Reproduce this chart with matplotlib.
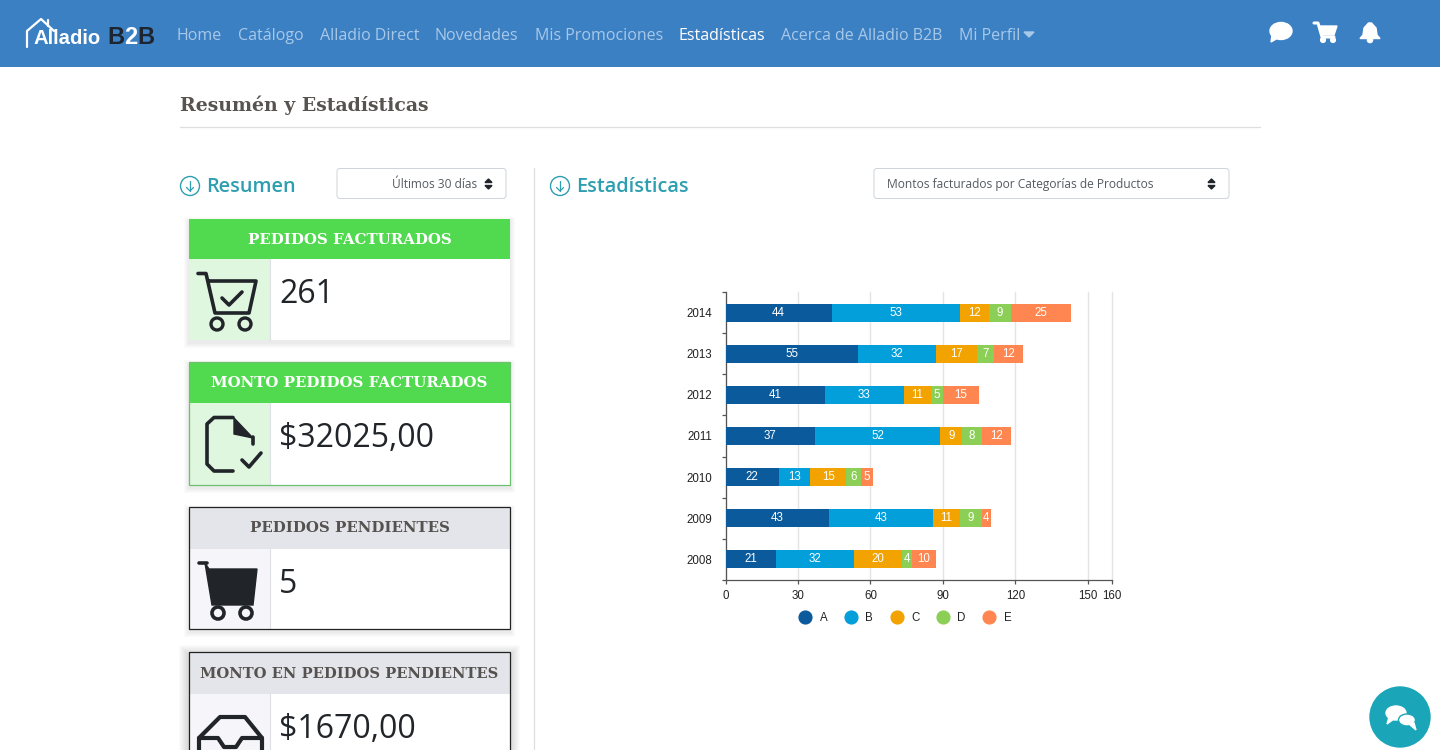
import matplotlib
matplotlib.use("Agg")
import matplotlib.pyplot as plt
from matplotlib.lines import Line2D
from matplotlib.patches import Circle, Ellipse, FancyBboxPatch, Polygon, Rectangle

W, H = 1440, 750

YEARS = ["2008", "2009", "2010", "2011", "2012", "2013", "2014"]
SERIES = ["A", "B", "C", "D", "E"]
A = [21, 43, 22, 37, 41, 55, 44]
B = [32, 43, 13, 52, 33, 32, 53]
C = [20, 11, 15, 9, 11, 17, 12]
D = [4, 9, 6, 8, 5, 7, 9]
E = [10, 4, 5, 12, 15, 12, 25]
XTICKS = [0, 30, 60, 90, 120, 150, 160]
COLORS = ["#0b5a9c", "#039fdb", "#f2a300", "#8ccf56", "#ff8650"]

NAV_ITEMS = ["Home", "Catálogo", "Alladio Direct", "Novedades", "Mis Promociones",
             "Estadísticas", "Acerca de Alladio B2B", "Mi Perfil"]
NAV_X = [177, 238, 320, 435, 535, 679, 781, 959]

SANS = "Open Sans"
SLAB = "DejaVu Serif"
DARK = "#212529"
TEAL = "#2e9fb0"
CHART_FONT = 8.3

fig = plt.figure(figsize=(W / 100, H / 100), dpi=100, facecolor="white")

# the page around the chart, in pixels
page = fig.add_axes([0, 0, 1, 1])
page.set_xlim(0, W)
page.set_ylim(H, 0)
page.axis("off")


def rect(x0, y0, x1, y1, color, z=1, **kw):
    page.add_patch(Rectangle((x0, y0), x1 - x0, y1 - y0, facecolor=color, zorder=z, **kw))


def line(xs, ys, color=DARK, lw=3.0, z=5):
    page.plot(xs, ys, color=color, lw=lw, zorder=z, solid_capstyle="round", solid_joinstyle="round")


def text(x, y, s, size, color=DARK, family=SANS, ha="left", weight="normal", z=6):
    page.text(x, y, s, fontsize=size, color=color, family=family, ha=ha, va="center",
              weight=weight, zorder=z)


def shadow(x0, y0, x1, y1, spread, alpha):
    for i in range(spread, 0, -1):
        rect(x0 - i, y0 - i + 3, x1 + i, y1 + i + 3, "black", z=1, alpha=alpha, linewidth=0)


def card(y0, y1, head_end, title, value, head, head_text, cell, border, title_size):
    rect(189, y0, 510, y1, "white", z=2, linewidth=0)
    rect(189, y0, 510, head_end, head, z=3, linewidth=0)
    rect(189, head_end, 270, y1, cell, z=3, linewidth=0)
    page.plot([270, 270], [head_end, y1], color="#dfe0e5", lw=0.8, zorder=4)
    if border:
        page.add_patch(Rectangle((189, y0), 321, y1 - y0, fill=False, edgecolor=border, lw=0.9, zorder=5))
    text(349.5, (y0 + head_end) / 2 + 0.5, title, title_size, head_text, SLAB, "center", "bold")
    text(279, head_end + 35.5, value, 23, DARK)


def select_box(x0, x1, label, tx, ha, size):
    page.add_patch(FancyBboxPatch((x0, 168.5), x1 - x0, 30, boxstyle="round,pad=0,rounding_size=3",
                                  facecolor="white", edgecolor="#ced4da", lw=0.7, zorder=3))
    text(tx, 184.5, label, size, "#555b61", ha=ha)
    ax_ = x1 - 17.5
    page.add_patch(Polygon([(ax_ - 3.5, 182.5), (ax_ + 3.5, 182.5), (ax_, 179)], color=DARK, zorder=5))
    page.add_patch(Polygon([(ax_ - 3.5, 185.5), (ax_ + 3.5, 185.5), (ax_, 189)], color=DARK, zorder=5))


def section_icon(x):
    page.add_patch(Ellipse((x, 186), 19, 19, fill=False, edgecolor=TEAL, lw=1.0, zorder=5))
    line([x, x], [181, 191], TEAL, 0.9)
    line([x - 3.5, x, x + 3.5], [187.5, 191, 187.5], TEAL, 0.9)


# navbar
rect(0, 0, W, 67, "#3c80c4", linewidth=0)
for label, x in zip(NAV_ITEMS, NAV_X):
    text(x, 36, label, 11.5, "white" if label == "Estadísticas" else "#a8c8e8")
page.add_patch(Polygon([(1024, 32), (1034, 32), (1029, 37)], color="#a8c8e8", zorder=5))

# logo
line([27, 27, 41, 54], [47, 31, 19, 31], "white", 1.6)
line([48, 48], [26, 20], "white", 1.6)
text(33, 38, "Alladio", 14.6, "white", "Liberation Sans", weight="bold")
text(107, 37, "B", 17, "#1d2530", "Liberation Sans", weight="bold")
text(124, 37, "2", 17, "white", "Liberation Sans", weight="bold", z=7)
text(137, 37, "B", 17, "#1d2530", "Liberation Sans", weight="bold")

# navbar icons
page.add_patch(Ellipse((1281, 31), 22, 17, color="white", zorder=5))
page.add_patch(Polygon([(1272, 35), (1278, 38), (1271, 42)], color="white", zorder=5))
line([1314, 1318, 1322, 1334], [23, 23, 37, 37], "white", 2.2)
page.add_patch(Polygon([(1319, 26), (1337, 26), (1334, 35), (1322, 35)], color="white", zorder=5))
page.add_patch(Circle((1323, 40), 2.4, color="white", zorder=5))
page.add_patch(Circle((1333, 40), 2.4, color="white", zorder=5))
page.add_patch(Polygon([(1364, 28), (1368.5, 23), (1371.5, 23), (1376, 28), (1377, 35), (1380, 38.5),
                        (1360, 38.5), (1363, 35)], color="white", zorder=5))
page.add_patch(Circle((1370, 40), 2.6, color="white", zorder=4))

# headings
text(180, 105, "Resumén y Estadísticas", 13.6, "#57534f", SLAB, weight="bold")
page.plot([180, 1260], [127, 127], color="#dedede", lw=0.9, zorder=2)
page.plot([534, 534], [168, H], color="#dedede", lw=0.9, zorder=2)
section_icon(190)
section_icon(560)
text(206, 187.5, "Resumen", 14.3, TEAL, weight="semibold")
text(576, 187.5, "Estadísticas", 14.3, TEAL, weight="semibold")
select_box(337, 506, "Últimos 30 días", 477, "right", 8.6)
select_box(874, 1229, "Montos facturados por Categorías de Productos", 887, "left", 8.65)

# cards
shadow(189, 219, 510, 340, 5, 0.014)
shadow(189, 362, 510, 485, 5, 0.014)
shadow(189, 507, 510, 629, 5, 0.014)
shadow(189, 652, 510, 760, 10, 0.016)
card(219, 340, 259, "PEDIDOS FACTURADOS", "261", "#51d94f", "white", "#dff6df", None, 10.8)
card(362, 485, 403, "MONTO PEDIDOS FACTURADOS", "$32025,00", "#51d94f", "white", "#dff6df", "#6cc070", 10.8)
card(507, 629, 549, "PEDIDOS PENDIENTES", "5", "#e4e5ea", "#55524f", "#f6f6fa", "#222222", 10.8)
card(652, 760, 694, "MONTO EN PEDIDOS PENDIENTES", "$1670,00", "#e4e5ea", "#55524f", "#f6f6fa", "#222222", 10.6)

# card icons
line([198, 206, 215, 249, 256, 209], [273.5, 273.5, 313, 313, 281, 281], DARK, 2.6)
line([222, 229, 242], [298, 305, 292], DARK, 2.6)
for cx in (217, 245):
    page.add_patch(Circle((cx, 324), 6, facecolor="#dff6df", edgecolor=DARK, lw=2.4, zorder=6))

line([253, 253], [437, 444], DARK, 2.6)
line([233, 214, 207, 207, 214, 233], [417.5, 417.5, 424, 464, 471, 471], DARK, 2.6)
page.add_patch(Polygon([(234, 418), (234, 434), (253, 438)], color=DARK, zorder=6))
line([242, 249, 261], [460, 467, 453], DARK, 2.6)

line([199, 207], [563, 563], DARK, 2.6)
page.add_patch(Polygon([(205, 563), (209, 569), (257, 569), (253, 605), (212, 605)], color=DARK, zorder=6))
for cx in (218, 246):
    page.add_patch(Circle((cx, 613), 6, facecolor="#f6f6fa", edgecolor=DARK, lw=2.6, zorder=7))

line([199, 199, 220, 245, 262, 262], [760, 738, 717, 717, 738, 760], DARK, 3)
line([199, 218, 224, 236, 242, 262], [738, 738, 747, 747, 738, 738], DARK, 3)

# floating chat button
page.add_patch(Circle((1400, 717), 30, color="#1ba5b8", zorder=8))
page.add_patch(Ellipse((1396, 713), 20, 14, color="white", zorder=9))
page.add_patch(Polygon([(1389, 717), (1394, 719), (1387, 724)], color="white", zorder=9))
page.add_patch(Ellipse((1407, 720), 17, 12, color="white", ec="#1ba5b8", lw=1, zorder=10))
page.add_patch(Polygon([(1409, 724), (1414, 723), (1416, 730)], color="white", zorder=10))

# chart
ax = fig.add_axes([725.5 / W, 1 - 579.7 / H, (1112 - 725.5) / W, (579.7 - 292.3) / H])
ax.patch.set_alpha(0)
left = [0] * len(YEARS)
for name, vals, color in zip(SERIES, [A, B, C, D, E], COLORS):
    bars = ax.barh(YEARS, vals, left=left, height=0.44, color=color, zorder=3)
    ax.bar_label(bars, label_type="center", color="white", fontsize=CHART_FONT, family="Liberation Sans")
    left = [l + v for l, v in zip(left, vals)]

ax.set_xlim(0, 160)
ax.set_ylim(-0.5, 6.5)
ax.set_xticks(XTICKS)
ax.set_yticks(range(len(YEARS)), YEARS)
ax.set_yticks([i - 0.5 for i in range(len(YEARS) + 1)], minor=True)
ax.tick_params(axis="y", which="major", length=0, pad=9.5, labelsize=CHART_FONT, labelcolor="#222222")
ax.tick_params(axis="y", which="minor", length=3, width=0.9, color="#555555")
ax.tick_params(axis="x", length=3.2, width=0.9, color="#555555", pad=4.5, labelsize=CHART_FONT, labelcolor="#222222")
for label in ax.get_xticklabels() + ax.get_yticklabels():
    label.set_family("Liberation Sans")
ax.grid(axis="x", color="#e4e4e4", lw=1.0, zorder=0, clip_on=False)
ax.set_axisbelow(True)
for side in ("top", "right"):
    ax.spines[side].set_visible(False)
for side in ("left", "bottom"):
    ax.spines[side].set_color("#555555")
    ax.spines[side].set_linewidth(0.9)

handles = [Line2D([], [], ls="", marker="o", ms=9.2, color=c, label=s) for s, c in zip(SERIES, COLORS)]
ax.legend(handles=handles, ncol=5, frameon=False, loc="upper center", bbox_to_anchor=(0.466, -0.091),
          handletextpad=0.75, columnspacing=1.54, handlelength=1.0, borderpad=0,
          prop={"family": "Liberation Sans", "size": CHART_FONT}, labelcolor="#222222")

fig.savefig("out.png", dpi=100)
